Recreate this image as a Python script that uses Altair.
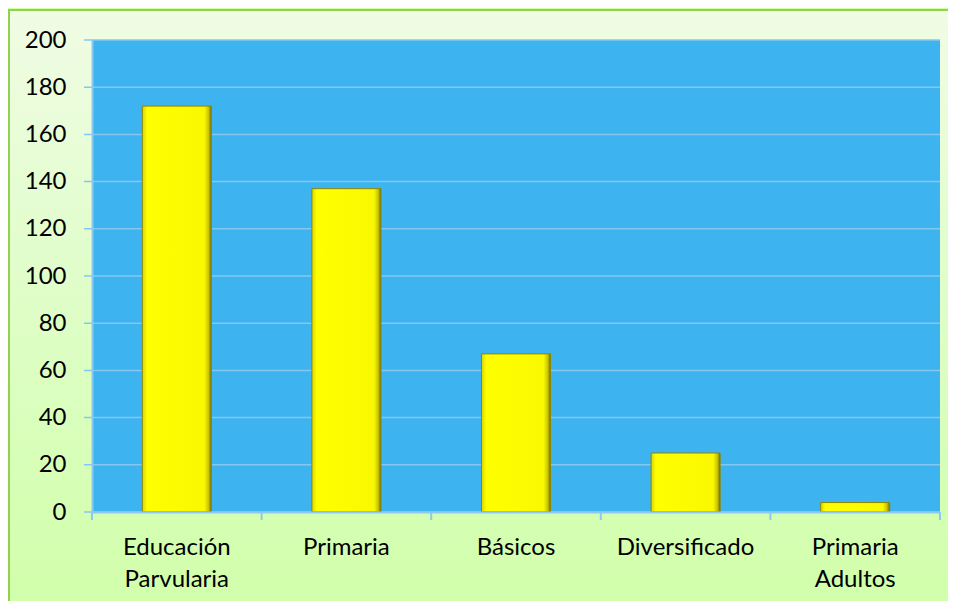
import altair as alt
import pandas as pd

categories = ["Educación Parvularia", "Primaria", "Básicos", "Diversificado", "Primaria Adultos"]
values = [172, 137, 67, 25, 4]
y_ticks = [0, 20, 40, 60, 80, 100, 120, 140, 160, 180, 200]
band_edges = [0, 1, 2, 3, 4, 5]

W, H = 848, 472

bars_df = pd.DataFrame({"categoria": categories, "valor": values})
grid_df = pd.DataFrame({"v": y_ticks})
edge_df = pd.DataFrame({"b": band_edges})
one = pd.DataFrame({"k": [0]})

xscale = alt.Scale(paddingInner=0.593, paddingOuter=0.2965)
yscale = alt.Scale(domain=[0, 200], nice=False)

bg_grad = alt.Gradient(
    gradient="linear", x1=0, x2=0, y1=0, y2=1,
    stops=[alt.GradientStop(color="#F0FCE4", offset=0),
           alt.GradientStop(color="#DDFEC4", offset=0.5),
           alt.GradientStop(color="#CEFFA4", offset=1)],
)
bar_grad = alt.Gradient(
    gradient="linear", x1=0, x2=1, y1=0, y2=0,
    stops=[alt.GradientStop(color="#D9D500", offset=0),
           alt.GradientStop(color="#FFFF00", offset=0.07),
           alt.GradientStop(color="#FAF800", offset=0.9),
           alt.GradientStop(color="#C9C400", offset=0.96),
           alt.GradientStop(color="#6E6A00", offset=1)],
)

yaxis = alt.Axis(
    values=y_ticks, grid=False, ticks=False, domain=True, domainColor="#8CC9F0",
    domainWidth=2, labelFont="Lato", labelFontSize=24, labelColor="#000000",
    labelPadding=26, title=None, zindex=1,
)
xaxis = alt.Axis(
    title=None, labelAngle=0, labelFont="Lato", labelFontSize=24, labelColor="#000000",
    labelExpr="split(datum.label, ' ')", labelLineHeight=32, labelPadding=23,
    domain=True, domainColor="#8CC9F0", domainWidth=2, ticks=False, grid=False, zindex=1,
)

bg = alt.Chart(one).mark_rect(fill=bg_grad, stroke="#92D050", strokeWidth=2).encode(
    x=alt.value(-83), x2=alt.value(W + 40), y=alt.value(-30), y2=alt.value(H + 150)
)
plot_bg = alt.Chart(one).mark_rect(fill="#3DB3F0").encode(
    x=alt.value(0), x2=alt.value(W), y=alt.value(0), y2=alt.value(H)
)
grid = alt.Chart(grid_df).mark_rule(color="#84C8F0", strokeWidth=1.5).encode(
    y=alt.Y("v:Q", scale=yscale, axis=yaxis),
    x=alt.value(-8), x2=alt.value(W),
)
edge_ticks = alt.Chart(edge_df).mark_rule(color="#8CC9F0", strokeWidth=2).encode(
    x=alt.X("b:Q", scale=alt.Scale(domain=[0, 5], nice=False), axis=None),
    y=alt.value(H), y2=alt.value(H + 8),
)

bars = alt.Chart(bars_df).mark_bar(fill=bar_grad, stroke="#8A8600", strokeWidth=1).encode(
    x=alt.X("categoria:N", sort=categories, scale=xscale, axis=xaxis),
    y=alt.Y("valor:Q", scale=yscale, axis=yaxis),
)

chart = alt.layer(bg, plot_bg, grid, bars, edge_ticks).resolve_scale(x="independent").properties(
    width=W, height=H,
    autosize=alt.AutoSizeParams(type="none"),
    padding={"left": 84, "top": 32, "right": 8, "bottom": 89},
    background="#D2FEAA",
).configure_view(stroke=None)

chart.save("out.html", embed_options={"renderer": "svg", "actions": False})
